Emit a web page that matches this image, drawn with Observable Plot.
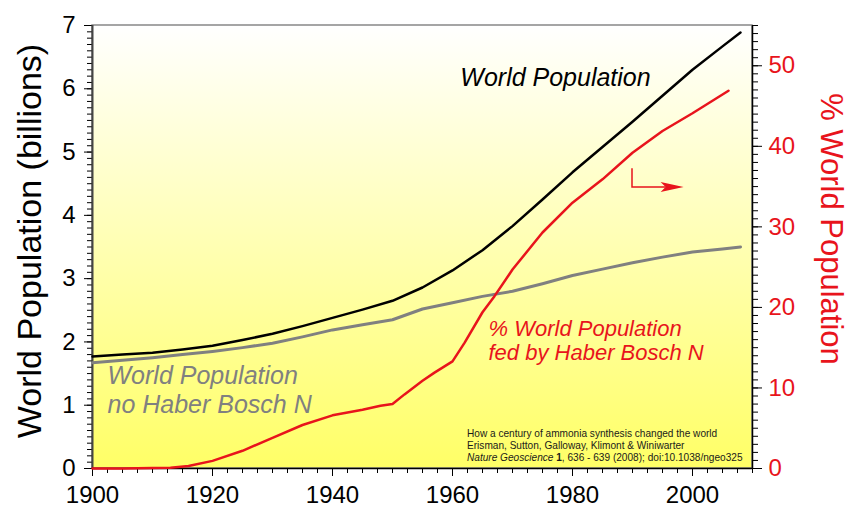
<!DOCTYPE html>
<html><head><meta charset="utf-8">
<script src="https://cdn.jsdelivr.net/npm/d3@7"></script>
<script src="https://cdn.jsdelivr.net/npm/@observablehq/plot@0.6"></script>
<style>body{margin:0;background:#fff;}</style>
</head><body><div id="chart"></div>
<script>
// ---- data ----
const popYears      = [1900,1905,1910,1915,1920,1925,1930,1935,1940,1945,1950,1955,1960,1965,1970,1975,1980,1985,1990,1995,2000,2005,2008];
const worldPop      = [1.77,1.80,1.83,1.88,1.94,2.03,2.13,2.25,2.38,2.51,2.65,2.86,3.13,3.45,3.83,4.25,4.68,5.08,5.48,5.89,6.30,6.67,6.89];
const noHaberBosch  = [1.67,1.71,1.75,1.80,1.85,1.91,1.98,2.08,2.19,2.27,2.35,2.52,2.62,2.72,2.80,2.92,3.05,3.15,3.25,3.34,3.42,3.47,3.50];
const pctYears      = [1900,1905,1910,1913,1916,1920,1925,1930,1935,1940,1945,1948,1950,1952,1955,1957,1960,1962,1965,1967,1970,1975,1980,1985,1990,1995,2000,2006];
const pctFedHB      = [0,0,0.05,0.1,0.3,0.95,2.2,3.8,5.4,6.6,7.3,7.8,8.0,9.2,10.9,11.9,13.3,15.6,19.4,21.4,24.7,29.3,33.0,35.9,39.2,41.9,44.1,46.9];
const xTickValues     = [1900,1920,1940,1960,1980,2000];
const leftTickValues  = [0,1,2,3,4,5,6,7];
const rightTickValues = [0,10,20,30,40,50];
const labels = {
  left: "World Population (billions)",
  right: "% World Population",
  world: "World Population",
  noHB: "World Population\nno Haber Bosch N",
  fed: "% World Population\nfed by Haber Bosch N"
};
const citationLines = ["How a century of ammonia synthesis changed the world", "Erisman, Sutton, Galloway, Klimont & Winiwarter"];
const citationRef = [["Nature Geoscience", "italic", "normal"], [" 1", "normal", "bold"], [", 636 - 639 (2008); doi:10.1038/ngeo325", "normal", "normal"]];

// ---- scales ----
const POP_MAX = 7, PCT_MAX = 55;
const toLeft = p => p * POP_MAX / PCT_MAX;
const RED = "#e8141c", GRAY = "#808080";
const FONT = "'Liberation Sans', Arial, sans-serif";

const popData = popYears.map((year, i) => ({year, world: worldPop[i], noHB: noHaberBosch[i]}));
const pctData = pctYears.map((year, i) => ({year, pct: pctFedHB[i]}));

const minorX = d3.range(1900, 2010.01, 2.5);
const minorLeft = d3.range(0, 7.001, 0.1);
const minorRight = d3.range(0, 55.001, 1).map(toLeft);

// annotation anchors (data units)
const arrowYear = 1990.0, arrowTopPct = 37.2, arrowPct = 34.9, arrowTipYear = 1998.6;
const citeYear = 1962.5, citeBaseline = 0.49;

function background(index, scales, values, dims) {
  const g = d3.create("svg:g");
  const lg = g.append("defs").append("linearGradient").attr("id", "bg")
    .attr("x1", 0).attr("y1", 0).attr("x2", 0).attr("y2", 1);
  lg.append("stop").attr("offset", "0%").attr("stop-color", "#ffffff");
  lg.append("stop").attr("offset", "100%").attr("stop-color", "#ffff66");
  g.append("rect")
    .attr("x", dims.marginLeft).attr("y", dims.marginTop)
    .attr("width", dims.width - dims.marginLeft - dims.marginRight)
    .attr("height", dims.height - dims.marginTop - dims.marginBottom)
    .attr("fill", "url(#bg)").attr("stroke", "#888").attr("stroke-width", 1.5);
  return g.node();
}

function arrowMark(index, scales) {
  const cx = scales.x(arrowYear), top = scales.y(toLeft(arrowTopPct)), cy = scales.y(toLeft(arrowPct)), tx = scales.x(arrowTipYear);
  const g = d3.create("svg:g");
  g.append("path").attr("d", `M${cx},${top}V${cy}H${tx - 18}`).attr("fill", "none").attr("stroke", RED).attr("stroke-width", 1.5);
  g.append("path").attr("d", `M${tx - 23},${cy - 5}L${tx},${cy}L${tx - 23},${cy + 5}L${tx - 18},${cy}Z`).attr("fill", RED);
  return g.node();
}

function citationMark(index, scales) {
  const x0 = scales.x(citeYear), y0 = scales.y(citeBaseline);
  const g = d3.create("svg:g").attr("font-family", FONT).attr("font-size", 10.1).attr("fill", "#1a1a1a").attr("text-anchor", "start");
  citationLines.forEach((t, i) => g.append("text").attr("x", x0).attr("y", y0 + i * 12).text(t));
  const t3 = g.append("text").attr("x", x0).attr("y", y0 + 24);
  citationRef.forEach(([s, st, w]) => t3.append("tspan").attr("font-style", st).attr("font-weight", w).text(s));
  return g.node();
}

const chart = Plot.plot({
  width: 850, height: 513,
  marginLeft: 92, marginRight: 98, marginTop: 25, marginBottom: 45,
  style: {fontFamily: FONT, fontSize: "24px", color: "black", background: "white"},
  x: {domain: [1900, 2010], axis: null},
  y: {domain: [0, POP_MAX], axis: null},
  marks: [
    background,
    // axes
    Plot.axisX(minorX, {tickSize: 5, fill: "none", label: null}),
    Plot.axisX(xTickValues, {tickSize: 8, tickPadding: 9, fontSize: 24, tickFormat: d => String(d), label: null}),
    Plot.axisY(minorLeft, {anchor: "left", tickSize: 5, fill: "none", label: null}),
    Plot.axisY(leftTickValues, {anchor: "left", tickSize: 8, tickPadding: 9, fontSize: 24, tickFormat: d => String(d), label: null}),
    Plot.axisY(minorRight, {anchor: "right", tickSize: 5, fill: "none", stroke: "black", label: null}),
    Plot.axisY(rightTickValues.map(toLeft), {anchor: "right", tickSize: 9, tickPadding: 7, stroke: "black", fill: RED, fontSize: 24,
      tickFormat: v => Math.round(v * PCT_MAX / POP_MAX), label: null}),
    Plot.ruleX([1900], {stroke: "#444", strokeWidth: 2}),
    Plot.ruleX([2010], {stroke: "black", strokeWidth: 1.5}),
    Plot.ruleY([0], {stroke: "black", strokeWidth: 1.5}),
    // series
    Plot.line(popData, {x: "year", y: "noHB", stroke: GRAY, strokeWidth: 3}),
    Plot.line(popData, {x: "year", y: "world", stroke: "black", strokeWidth: 2.5}),
    Plot.line(pctData, {x: "year", y: d => toLeft(d.pct), stroke: RED, strokeWidth: 2.5}),
    // annotations
    Plot.text([labels.world], {x: 1961.3, y: 6.17, textAnchor: "start", fontStyle: "italic", fontSize: 25, fill: "black"}),
    Plot.text([labels.noHB], {x: 1902.5, y: 1.25, textAnchor: "start", fontStyle: "italic", fontSize: 25, lineHeight: 1.14, fill: GRAY}),
    Plot.text([labels.fed], {x: 1966.0, y: toLeft(15.9), textAnchor: "start", fontStyle: "italic", fontSize: 22, lineHeight: 1.1, fill: RED}),
    arrowMark,
    citationMark,
    // axis titles
    Plot.text([labels.left], {frameAnchor: "left", textAnchor: "middle", rotate: -90, dx: -62, dy: -6, fontSize: 34, fill: "black"}),
    Plot.text([labels.right], {frameAnchor: "right", textAnchor: "middle", rotate: 90, dx: 78, dy: -18, fontSize: 31, fill: RED})
  ]
});
document.getElementById("chart").appendChild(chart);
</script>
</body></html>
